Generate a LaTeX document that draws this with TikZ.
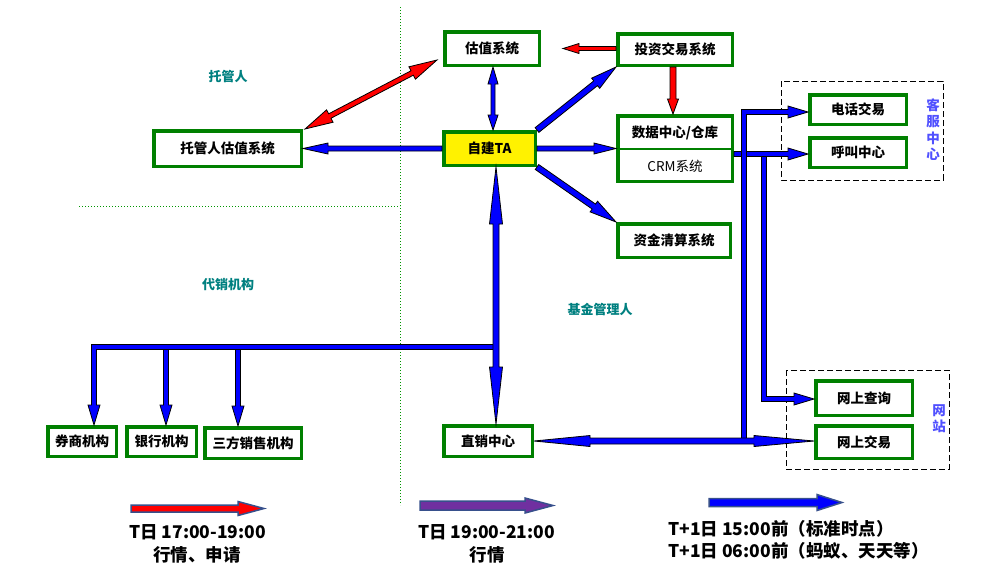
\documentclass[tikz,border=0pt]{standalone}
\usepackage{fontspec}
\setmainfont{Noto Sans CJK SC}
\usetikzlibrary{calc}

\definecolor{boxgreen}{RGB}{0,128,0}
\definecolor{arrowblue}{RGB}{0,0,255}
\definecolor{arrowred}{RGB}{255,0,0}
\definecolor{labelteal}{RGB}{0,128,128}
\definecolor{sideblue}{RGB}{80,80,255}
\definecolor{legendedge}{RGB}{55,80,140}
\definecolor{legendpurple}{RGB}{112,48,160}
\definecolor{divgreen}{RGB}{0,150,0}

% Block arrow with one head: #1 style, #2 tail, #3 tip,
% #4 shaft half width, #5 head length, #6 head half width
\newcommand\onearrow[6]{%
  \path (#2) coordinate (ba-tail) (#3) coordinate (ba-tip);
  \pgfpointdiff{\pgfpointanchor{ba-tail}{center}}{\pgfpointanchor{ba-tip}{center}}%
  \pgfgetlastxy{\bax}{\bay}%
  \pgfmathsetmacro\balen{veclen(\bax,\bay)}%
  \pgfmathsetmacro\baang{atan2(\bay,\bax)}%
  \begin{scope}[shift={(ba-tail)}, rotate=\baang, x=1pt, y=1pt]
    \draw[#1] (0,-#4) -- ({\balen-#5},-#4) -- ({\balen-#5},-#6) -- (\balen,0)
      -- ({\balen-#5},#6) -- ({\balen-#5},#4) -- (0,#4) -- cycle;
  \end{scope}}

% Block arrow with a head at both ends: #7 is the head length at the tail end
\newcommand\twoarrow[7]{%
  \path (#2) coordinate (ba-tail) (#3) coordinate (ba-tip);
  \pgfpointdiff{\pgfpointanchor{ba-tail}{center}}{\pgfpointanchor{ba-tip}{center}}%
  \pgfgetlastxy{\bax}{\bay}%
  \pgfmathsetmacro\balen{veclen(\bax,\bay)}%
  \pgfmathsetmacro\baang{atan2(\bay,\bax)}%
  \begin{scope}[shift={(ba-tail)}, rotate=\baang, x=1pt, y=1pt]
    \draw[#1] (0,0) -- (#7,-#6) -- (#7,-#4) -- ({\balen-#5},-#4) -- ({\balen-#5},-#6)
      -- (\balen,0) -- ({\balen-#5},#6) -- ({\balen-#5},#4) -- (#7,#4) -- (#7,#6) -- cycle;
  \end{scope}}

\tikzset{
  box/.style={draw=boxgreen, line width=3.5pt, fill=white, inner sep=0pt,
    font=\fontsize{13.5}{16}\selectfont\bfseries, text=black},
  boxtext/.style={inner sep=0pt, font=\fontsize{13.5}{16}\selectfont\bfseries, text=black},
  grouplabel/.style={inner sep=0pt, font=\fontsize{13}{16}\selectfont\bfseries, text=labelteal},
  sidelabel/.style={inner sep=0pt, align=center, font=\fontsize{13.5}{16.5}\selectfont\bfseries, text=sideblue},
  legendtext/.style={inner sep=0pt, font=\fontsize{17.5}{20}\selectfont\bfseries, text=black},
  blockblue/.style={draw=black, line width=0.8pt, fill=arrowblue, line join=miter},
  blockred/.style={draw=black, line width=0.8pt, fill=arrowred, line join=miter},
  pipe/.style={draw=arrowblue, line width=4.6pt, line join=miter,
    preaction={draw=black, line width=6.4pt}},
  groupframe/.style={draw=black, line width=0.8pt, dash pattern=on 6pt off 3pt},
  divider/.style={draw=divgreen, line width=1pt, dotted},
  legendarrow/.style={draw=legendedge, line width=1.5pt, line join=miter, fill=#1},
}

\begin{document}
\begin{tikzpicture}[x=1pt, y=-1pt]
\useasboundingbox (0,0) rectangle (1003,574);

% dotted dividers between the parties
\draw[divider] (400,7) -- (400,505);
\draw[divider] (79,206) -- (400,206);

% party labels
\node[grouplabel] (lbl-tg) at (228,77) {托管人};
\node[grouplabel] (lbl-dx) at (228,285) {代销机构};
\node[grouplabel] (lbl-jj) at (600,309) {基金管理人};

% dashed groups
\draw[groupframe] (781,81) rectangle (943,180);
\draw[groupframe] (786,370) rectangle (949,469);
\node[sidelabel] (lbl-kf) at (933,129.5) {客\\服\\中\\心};
\node[sidelabel] (lbl-wz) at (939,418.5) {网\\站};

% systems
\node[box, minimum width=94.5pt, minimum height=33.5pt] (gz) at (492,48.5) {估值系统};
\node[box, minimum width=114.5pt, minimum height=31.5pt] (tz) at (675,49.5) {投资交易系统};
\node[box, minimum width=147.5pt, minimum height=35.5pt] (tgz) at (227.5,148.5) {托管人估值系统};
\node[box, fill=yellow, minimum width=91.5pt, minimum height=33.5pt] (ta) at (489.5,148.5) {自建TA};
\node[box, minimum width=114.5pt, minimum height=65.5pt] (dc) at (675,148.5) {};
\draw[boxgreen, line width=2pt] (dc.west) -- (dc.east);
\node[boxtext] (dc-top) at (675,133) {数据中心/仓库};
\node[boxtext, font=\fontsize{13.5}{16}\selectfont] (dc-crm) at (675,166) {CRM系统};
\node[box, minimum width=112.5pt, minimum height=33.5pt] (zj) at (674,240.5) {资金清算系统};
\node[box, minimum width=96.5pt, minimum height=29.5pt] (dh) at (858,109.5) {电话交易};
\node[box, minimum width=96.5pt, minimum height=29.5pt] (hj) at (858,152.5) {呼叫中心};
\node[box, minimum width=96.5pt, minimum height=34.5pt] (wc) at (864,398) {网上查询};
\node[box, minimum width=96.5pt, minimum height=32.5pt] (wj) at (864,442) {网上交易};
\node[box, minimum width=88.5pt, minimum height=30.5pt] (zx) at (488,441) {直销中心};
\node[box, minimum width=68.5pt, minimum height=29.5pt] (qs) at (82,441.5) {券商机构};
\node[box, minimum width=69.5pt, minimum height=29.5pt] (yh) at (161.5,441.5) {银行机构};
\node[box, minimum width=96.5pt, minimum height=30.5pt] (sf) at (253,443) {三方销售机构};

% valuation links
\twoarrow{blockred}{[xshift=2pt]tgz.north east}{[xshift=-6pt,yshift=7pt]gz.south west}{2.5}{28}{7}{28}
\onearrow{blockred}{tz.west |- gz.east}{[xshift=22pt]gz.east}{2}{16}{5}
\coordinate (r3) at ([xshift=-2pt]tz.south);
\onearrow{blockred}{r3}{r3 |- dc.north}{3}{15}{5.5}
\coordinate (v1) at ([xshift=1pt]gz.south);
\twoarrow{blockblue}{v1 |- ta.north}{v1}{2}{17}{5}{15}

% links out of the TA
\onearrow{blockblue}{ta.west}{tgz.east}{2.5}{25}{5.5}
\onearrow{blockblue}{ta.north east}{tz.south west}{3}{26}{6.5}
\onearrow{blockblue}{ta.east}{dc.west}{2.5}{22}{5.5}
\onearrow{blockblue}{ta.south east}{zj.north west}{3}{27}{6.5}

% CRM to the call centre and the web query page
\coordinate (e2t) at (764,154);
\coordinate (e2b) at (764,399);
\onearrow{blockblue}{[xshift=2pt]e2b}{wc.west |- e2b}{2.5}{20}{6}
\draw[pipe] (e2t) -- (e2b) -- ([xshift=4pt]e2b);
\coordinate (c1) at ([yshift=-5.5pt]dc.east);
\onearrow{blockblue}{c1}{hj.west |- c1}{2.5}{20}{6}

% direct sales to phone trading and web trading
\coordinate (e1b) at (744,441);
\coordinate (e1t) at (744,112);
\onearrow{blockblue}{[xshift=2pt]e1t}{dh.west |- e1t}{2.5}{20}{6}
\draw[pipe] (e1b) -- (e1t) -- ([xshift=4pt]e1t);
\twoarrow{blockblue}{zx.east}{wj.west |- zx.east}{3}{60}{5.5}{56}

% distribution to the sales agencies
\coordinate (d1) at (94,347);
\coordinate (d2) at (166,347);
\coordinate (d3) at (238,347);
\coordinate (barR) at (496,347);
\onearrow{blockblue}{d1}{d1 |- qs.north}{2.5}{20}{6}
\onearrow{blockblue}{d2}{d2 |- yh.north}{2.5}{20}{6}
\onearrow{blockblue}{d3}{d3 |- sf.north}{2.5}{20}{6}
\draw[pipe] ([yshift=-10pt]d1) -- (d1) -- (barR);

% TA to direct sales
\coordinate (v2) at ([xshift=6.5pt]ta.south);
\twoarrow{blockblue}{v2 |- zx.north}{v2}{3}{57}{6.5}{57}

% legend
\onearrow{legendarrow=arrowred}{131,508.5}{264,508.5}{3.5}{26}{7}
\onearrow{legendarrow=legendpurple}{420,505.5}{553,505.5}{4.5}{28}{7.5}
\onearrow{legendarrow=arrowblue}{709,502.5}{842,502.5}{4}{25}{8}
\node[legendtext] (l1a) at (197.5,532) {T日 17:00-19:00};
\node[legendtext] (l1b) at (197,555) {行情、申请};
\node[legendtext] (l2a) at (486.5,532) {T日 19:00-21:00};
\node[legendtext] (l2b) at (487,555) {行情};
\node[legendtext, anchor=west] (l3a) at (668,529) {T+1日 15:00前（标准时点）};
\node[legendtext, anchor=west] (l3b) at (668,551) {T+1日 06:00前（蚂蚁、天天等）};
\end{tikzpicture}
\end{document}
